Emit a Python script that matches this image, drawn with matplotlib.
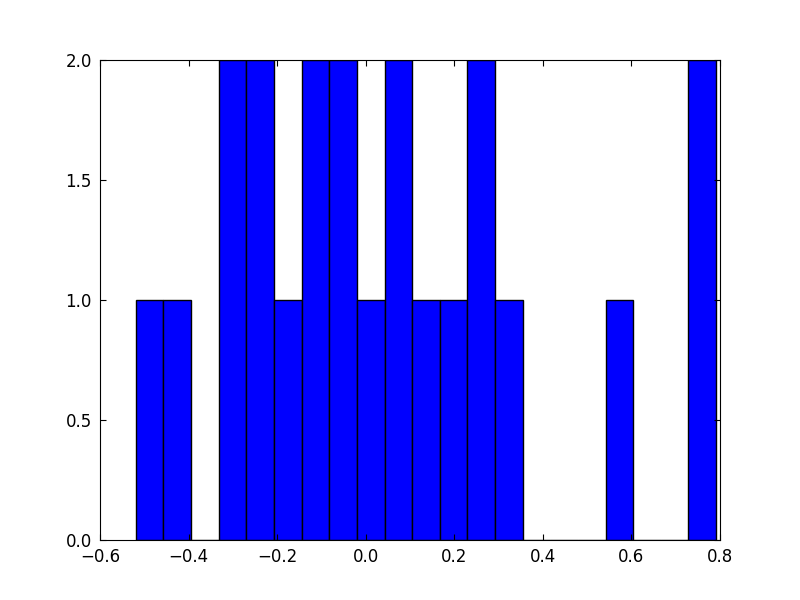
import matplotlib
matplotlib.use('Agg')
import matplotlib.pyplot as plt
import numpy as np

# classic-looking settings
plt.rc('font', size=12, family='DejaVu Sans')
plt.rc('xtick', direction='in', top=True)
plt.rc('ytick', direction='in', right=True)
plt.rc('xtick.major', size=4, pad=6)
plt.rc('ytick.major', size=4, pad=6)

# histogram
x_start = -0.519
x_end = 0.791
counts = [1, 1, 0, 2, 2, 1, 2, 2, 1, 2, 1, 1, 2, 1, 0, 0, 0, 1, 0, 0, 2]

edges = np.linspace(x_start, x_end, len(counts) + 1)
centers = 0.5 * (edges[:-1] + edges[1:])

fig = plt.figure(figsize=(8, 6), dpi=100)
ax = fig.add_axes([0.125, 0.1, 0.775, 0.8])
ax.hist(centers, bins=edges, weights=counts, color='#0000ff',
        edgecolor='black', linewidth=1.0)

ax.set_xlim(-0.6, 0.8)
ax.set_ylim(0, 2.0)
ax.set_xticks(np.arange(-0.6, 0.81, 0.2))
ax.set_yticks(np.arange(0, 2.01, 0.5))
ax.set_xticklabels(['{:.1f}'.format(v).replace('-', '\u2212') for v in np.arange(-0.6, 0.81, 0.2)])
ax.set_yticklabels(['{:.1f}'.format(v) for v in np.arange(0, 2.01, 0.5)])

fig.savefig('out.png', dpi=100)
